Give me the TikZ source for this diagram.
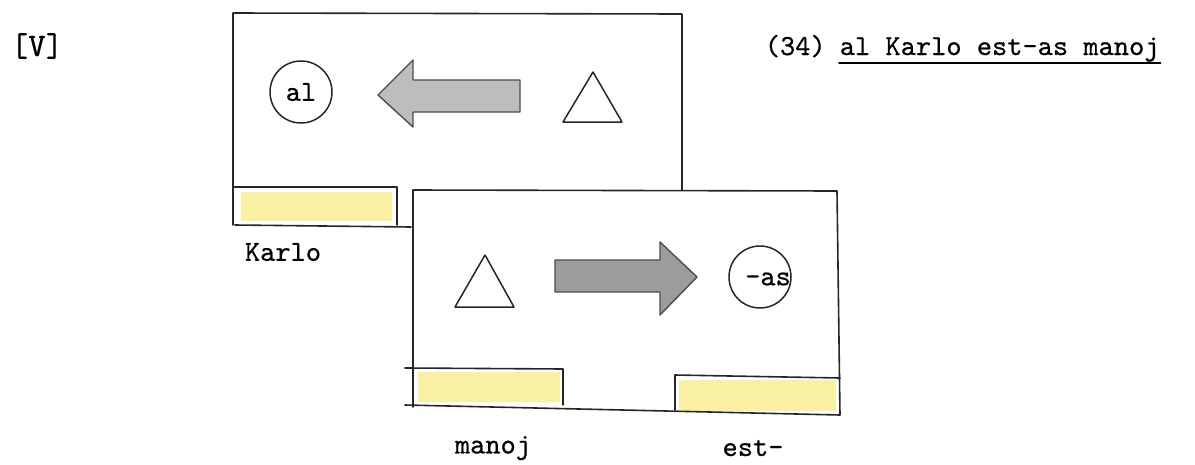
\documentclass[tikz,border=0pt]{standalone}
\usepackage{fontspec}
\newfontfamily\twfont{lmmono10-regular.otf}[FakeBold=0.6]
\definecolor{stripyellow}{HTML}{FAF0A2}
\definecolor{arrowlight}{HTML}{BDBDBD}
\definecolor{arrowdark}{HTML}{9C9C9C}
\begin{document}
\begin{tikzpicture}[x=1pt,y=-1pt,line width=1.6pt,line join=round,line cap=round,
  frame/.style={draw=black!85},
  morph/.style={circle,draw=black!85,line width=1.5pt,minimum size=62pt,inner sep=0pt},
  tri/.style={draw=black!85,line width=1.5pt},
  bigarrow/.style={draw=black!70,line width=1.4pt},
  lbl/.style={font=\twfont\fontsize{29}{34}\selectfont,inner sep=0pt}]
\useasboundingbox (0,0) rectangle (1195,464);

% ---- top frame ----
\fill[stripyellow] (241,192) rectangle (392,221);
\draw[frame] (233,225) -- (233,13) -- (682,14) -- (682,190);
\draw[frame] (233,187) -- (397,187) -- (397,225);
\draw[frame] (235,225) -- (411,227);

% ---- bottom frame ----
\fill[stripyellow] (418,372) rectangle (560,402);
\fill[stripyellow] (679,380) rectangle (836,411);
\draw[frame] (413,190) -- (837,191) -- (840,415) -- (405,405);
\draw[frame] (413,190) -- (413,407);
\draw[frame] (405,368) -- (563,369) -- (563,405);
\draw[frame] (675,410) -- (675,375) -- (840,378);

% ---- top frame content ----
\node[morph,lbl] (al) at (301,92) {al};
\draw[bigarrow,fill=arrowlight] (378,95) -- (413,60) -- (413,80) -- (520,80) -- (520,112) -- (413,112) -- (413,127) -- cycle;
\coordinate (t1a) at (593,72);
\coordinate (t1b) at (563,122);
\coordinate (t1c) at (622,122);
\draw[tri] (t1a) -- (t1b) -- (t1c) -- cycle;

% ---- bottom frame content ----
\coordinate (t2a) at (485,255);
\coordinate (t2b) at (455,307);
\coordinate (t2c) at (514,307);
\draw[tri] (t2a) -- (t2b) -- (t2c) -- cycle;
\draw[bigarrow,fill=arrowdark] (697,277) -- (660,242) -- (660,260) -- (555,260) -- (555,292) -- (660,292) -- (660,315) -- cycle;
\node[morph] (as) at (760,277) {};
\node[lbl] (astext) at (768,279) {-as};

% ---- labels ----
\node[lbl,font=\twfont\fontsize{33}{38}\selectfont] (v) at (37,46) {[V]};
\node[lbl,anchor=base west] (num) at (764,55) {(34)};
\node[lbl,anchor=base west] (sent) at (839,55) {al Karlo est-as manoj};
\draw[line width=2pt] ([yshift=-8pt]sent.base west) -- ([yshift=-8pt]sent.base east);
\node[lbl] (karlo) at (283,252) {Karlo};
\node[lbl] (manoj) at (493,448) {manoj};
\node[lbl] (est) at (753,448) {est-};
\end{tikzpicture}
\end{document}
